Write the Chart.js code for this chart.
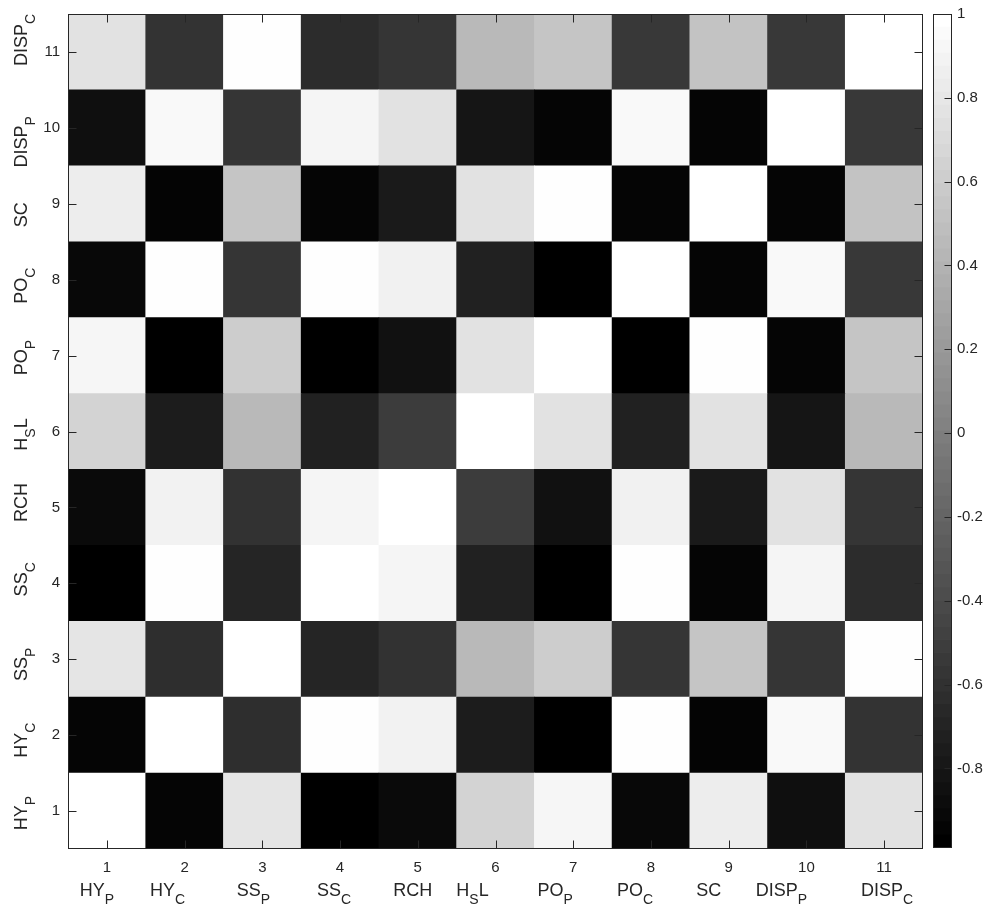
<!DOCTYPE html>
<html>
<head>
<meta charset="utf-8">
<script src="https://cdn.jsdelivr.net/npm/chart.js@4"></script>
<style>
  html, body { margin: 0; padding: 0; background: #fff; }
  #wrap { position: relative; width: 990px; height: 911px; }
  #heat { position: absolute; left: 0; top: 0; }
  #bar { position: absolute; left: 925px; top: 0; }
</style>
</head>
<body>
<div id="wrap">
  <canvas id="heat" width="925" height="911"></canvas>
  <canvas id="bar" width="65" height="911"></canvas>
</div>
<script>
// variables, bottom to top / left to right
const varNames = ['HY_P', 'HY_C', 'SS_P', 'SS_C', 'RCH', 'H_SL', 'PO_P', 'PO_C', 'SC', 'DISP_P', 'DISP_C'];
const tickNums = ['1', '2', '3', '4', '5', '6', '7', '8', '9', '10', '11'];

// correlation rows (one per variable)
const rowHYp   = [ 1.00, -0.95,  0.80, -0.99, -0.91,  0.66,  0.93, -0.93,  0.86, -0.87,  0.77];
const rowHYc   = [-0.95,  1.00, -0.63,  0.99,  0.90, -0.77, -0.99,  0.99, -0.96,  0.95, -0.59];
const rowSSp   = [ 0.80, -0.63,  1.00, -0.70, -0.60,  0.45,  0.61, -0.58,  0.55, -0.58,  0.99];
const rowSSc   = [-0.99,  0.99, -0.70,  1.00,  0.92, -0.73, -0.99,  0.99, -0.95,  0.92, -0.65];
const rowRCH   = [-0.91,  0.90, -0.60,  0.92,  1.00, -0.52, -0.86,  0.89, -0.79,  0.77, -0.58];
const rowHSL   = [ 0.66, -0.77,  0.45, -0.73, -0.52,  1.00,  0.77, -0.73,  0.77, -0.83,  0.45];
const rowPOp   = [ 0.93, -0.99,  0.61, -0.99, -0.86,  0.77,  1.00, -0.99,  0.99, -0.95,  0.55];
const rowPOc   = [-0.93,  0.99, -0.58,  0.99,  0.89, -0.73, -0.99,  1.00, -0.95,  0.95, -0.55];
const rowSC    = [ 0.86, -0.96,  0.55, -0.95, -0.79,  0.77,  0.99, -0.95,  1.00, -0.95,  0.53];
const rowDISPp = [-0.87,  0.95, -0.58,  0.92,  0.77, -0.83, -0.95,  0.95, -0.95,  1.00, -0.55];
const rowDISPc = [ 0.77, -0.59,  0.99, -0.65, -0.58,  0.45,  0.55, -0.55,  0.53, -0.55,  1.00];

// colour limits and colorbar ticks
const cMin = -0.99;
const cMax = 1;
const cbTicks = [-0.8, -0.6, -0.4, -0.2, 0, 0.2, 0.4, 0.6, 0.8, 1];

const rows = [rowHYp, rowHYc, rowSSp, rowSSc, rowRCH, rowHSL, rowPOp, rowPOc, rowSC, rowDISPp, rowDISPc];

const fontFam = '"Liberation Sans", Arial, Helvetica, sans-serif';
const axisColor = '#262626';
const nameFont = '18px ' + fontFam;
const subFont = '14px ' + fontFam;

function grayOf(v) {
    let t = (v - cMin) / (cMax - cMin);
    t = Math.max(0, Math.min(1, t));
    const g = Math.round(t * 255);
    return 'rgb(' + g + ',' + g + ',' + g + ')';
}

function noPad(s) {
    s.paddingTop = 0;
    s.paddingBottom = 0;
    s.paddingLeft = 0;
    s.paddingRight = 0;
}

// draw "HY_P" style text, one char after "_" is a subscript
function drawRich(ctx, label, x, y) {
    const parts = [];
    for (let k = 0; k < label.length; k++) {
        if (label[k] === '_') {
            parts.push({ t: label[k + 1], sub: true });
            k++;
        } else if (parts.length && !parts[parts.length - 1].sub) {
            parts[parts.length - 1].t += label[k];
        } else {
            parts.push({ t: label[k], sub: false });
        }
    }
    let w = 0;
    parts.forEach(p => {
        ctx.font = p.sub ? subFont : nameFont;
        p.w = ctx.measureText(p.t).width;
        w += p.w;
    });
    let cx = x - w / 2;
    ctx.textAlign = 'left';
    ctx.textBaseline = 'alphabetic';
    parts.forEach(p => {
        ctx.font = p.sub ? subFont : nameFont;
        ctx.fillText(p.t, cx, p.sub ? y + 8 : y);
        cx += p.w;
    });
}

// label nudges, as in the original figure
const xNameShift = [-10, -17, -9, -6, -5, -23, -18, -16, -20, -25, 3];
const yNameShift = [2, 5, 5, -4, -5, 3, 2, 6, 11, 14, -12];

const boxPlugin = {
    id: 'box',
    afterDatasetsDraw(chart) {
        const { ctx, chartArea: a, scales: { x, y } } = chart;
        ctx.save();
        ctx.strokeStyle = axisColor;
        ctx.lineWidth = 1;
        const l = Math.round(a.left) + 0.5, r = Math.round(a.right) - 0.5;
        const t = Math.round(a.top) + 0.5, b = Math.round(a.bottom) - 0.5;
        ctx.strokeRect(l, t, r - l, b - t);
        ctx.beginPath();
        tickNums.forEach((n, i) => {
            const px = Math.round(x.getPixelForValue(i)) + 0.5;
            ctx.moveTo(px, b); ctx.lineTo(px, b - 8);
            ctx.moveTo(px, t); ctx.lineTo(px, t + 8);
            const py = Math.round(y.getPixelForValue(i + 1)) + 0.5;
            ctx.moveTo(l, py); ctx.lineTo(l + 8, py);
            ctx.moveTo(r, py); ctx.lineTo(r - 8, py);
        });
        ctx.stroke();
        ctx.restore();
    },
    afterDraw(chart) {
        const { ctx, chartArea: a, scales: { x, y } } = chart;
        ctx.save();
        ctx.fillStyle = axisColor;
        varNames.forEach((nm, i) => {
            drawRich(ctx, nm, x.getPixelForValue(i) + xNameShift[i], a.bottom + 47);
            ctx.save();
            ctx.translate(27, y.getPixelForValue(i + 1) + yNameShift[i]);
            ctx.rotate(-Math.PI / 2);
            drawRich(ctx, nm, 0, 0);
            ctx.restore();
        });
        ctx.restore();
    }
};

const heatSets = rows.map((vals, i) => ({
    data: vals.map(() => [i + 0.5, i + 1.5]),
    backgroundColor: vals.map(grayOf),
    borderWidth: 0,
    grouped: false,
    categoryPercentage: 1,
    barPercentage: 1
}));

new Chart(document.getElementById('heat'), {
    type: 'bar',
    data: { labels: tickNums, datasets: heatSets },
    options: {
        responsive: false,
        animation: false,
        events: [],
        layout: { padding: { top: 14, right: 2, left: 0, bottom: 0 } },
        plugins: { legend: { display: false }, tooltip: { enabled: false } },
        scales: {
            x: {
                grid: { display: false, drawTicks: false },
                border: { display: false },
                ticks: { font: { family: fontFam, size: 15 }, color: axisColor, padding: 10, maxRotation: 0, autoSkip: false },
                afterFit: s => { s.height = 62; noPad(s); }
            },
            y: {
                type: 'linear',
                min: 0.5,
                max: 11.5,
                afterBuildTicks: s => { s.ticks = tickNums.map((n, i) => ({ value: i + 1 })); },
                grid: { display: false, drawTicks: false },
                border: { display: false },
                ticks: { font: { family: fontFam, size: 15 }, color: axisColor, padding: 8, callback: v => String(v) },
                afterFit: s => { s.width = 68; noPad(s); }
            }
        }
    },
    plugins: [boxPlugin]
});

// colorbar: 64 grey bands like the figure's colormap
const nLevels = 64;
const bandSets = [];
for (let k = 0; k < nLevels; k++) {
    const lo = cMin + k * (cMax - cMin) / nLevels;
    const hi = cMin + (k + 1) * (cMax - cMin) / nLevels;
    const g = Math.round(k / (nLevels - 1) * 255);
    bandSets.push({
        data: [[lo, hi]],
        backgroundColor: 'rgb(' + g + ',' + g + ',' + g + ')',
        borderWidth: 0,
        grouped: false,
        categoryPercentage: 1,
        barPercentage: 1
    });
}

const cbPlugin = {
    id: 'cbBox',
    afterDatasetsDraw(chart) {
        const { ctx, chartArea: a, scales: { y } } = chart;
        ctx.save();
        ctx.strokeStyle = axisColor;
        ctx.lineWidth = 1;
        const l = Math.round(a.left) + 0.5, r = Math.round(a.right) - 0.5;
        const t = Math.round(a.top) + 0.5, b = Math.round(a.bottom) - 0.5;
        ctx.strokeRect(l, t, r - l, b - t);
        ctx.beginPath();
        cbTicks.forEach(v => {
            const py = Math.round(y.getPixelForValue(v)) + 0.5;
            ctx.moveTo(r, py); ctx.lineTo(r - 7, py);
        });
        ctx.stroke();
        ctx.restore();
    }
};

new Chart(document.getElementById('bar'), {
    type: 'bar',
    data: { labels: [''], datasets: bandSets },
    options: {
        responsive: false,
        animation: false,
        events: [],
        layout: { padding: { top: 14, left: 8, bottom: 63, right: 0 } },
        plugins: { legend: { display: false }, tooltip: { enabled: false } },
        scales: {
            x: { display: false },
            y: {
                position: 'right',
                min: cMin,
                max: cMax,
                afterBuildTicks: s => { s.ticks = cbTicks.map(v => ({ value: v })); },
                grid: { display: false, drawTicks: false },
                border: { display: false },
                ticks: { font: { family: fontFam, size: 15 }, color: axisColor, padding: 5, callback: v => String(v) },
                afterFit: s => { s.width = 38; noPad(s); }
            }
        }
    },
    plugins: [cbPlugin]
});
</script>
</body>
</html>
